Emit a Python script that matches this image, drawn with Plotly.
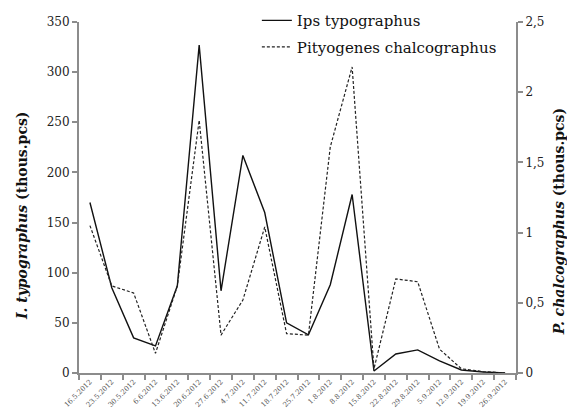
import plotly.graph_objects as go

dates = ["16.5.2012", "23.5.2012", "30.5.2012", "6.6.2012", "13.6.2012", "20.6.2012",
         "27.6.2012", "4.7.2012", "11.7.2012", "18.7.2012", "25.7.2012", "1.8.2012",
         "8.8.2012", "15.8.2012", "22.8.2012", "29.8.2012", "5.9.2012", "12.9.2012",
         "19.9.2012", "26.9.2012"]
ips = [170, 85, 35, 27, 87, 327, 82, 217, 160, 50, 38, 88, 178, 2, 19, 23, 12, 3, 1, 0]
pity = [1.05, 0.62, 0.57, 0.14, 0.62, 1.80, 0.27, 0.52, 1.04, 0.28, 0.27, 1.61, 2.18,
        0.03, 0.67, 0.65, 0.17, 0.03, 0.01, 0.0]

serif = "DejaVu Serif"

fig = go.Figure()
fig.add_trace(go.Scatter(x=dates, y=ips, name="Ips typographus", mode="lines",
                         legendgroup="a",
                         line=dict(color="#111111", width=1.4), yaxis="y"))
fig.add_trace(go.Scatter(x=dates, y=pity, name="Pityogenes chalcographus", mode="lines",
                         legendgroup="b",
                         line=dict(color="#222222", width=1.2, dash="3px,2px"), yaxis="y2"))

axis_col = "#8c8c8c"
fig.update_layout(
    # page body has an 8px offset in the browser; size the figure to fit the window
    width=567, height=409,
    margin=dict(l=71, r=59, t=14, b=44, autoexpand=False),
    paper_bgcolor="white", plot_bgcolor="white",
    separators=", ",
    font=dict(family=serif, color="#111111", size=12),
    showlegend=True,
    legend=dict(x=0.407, y=1.051, xanchor="left", yanchor="top",
                bgcolor="rgba(0,0,0,0)", font=dict(family=serif, size=15),
                tracegroupgap=4),
    xaxis=dict(type="category", range=[-0.5, len(dates) - 0.5],
               showline=True, linecolor=axis_col, linewidth=2,
               ticks="outside", tickcolor=axis_col, tickwidth=1.5, ticklen=5,
               tickson="boundaries", tickangle=-45, showgrid=False, zeroline=False,
               automargin=False,
               tickfont=dict(family=serif, size=7, color="#555555")),
    yaxis=dict(range=[0, 350], dtick=50, showline=True, linecolor=axis_col, linewidth=2,
               ticks="outside", tickcolor=axis_col, tickwidth=1.5, ticklen=5,
               showgrid=False, zeroline=False, automargin=False,
               tickfont=dict(family=serif, size=12, color="#222222")),
    yaxis2=dict(range=[0, 2.5], dtick=0.5, overlaying="y", side="right",
                showline=True, linecolor=axis_col, linewidth=2,
                ticks="outside", tickcolor=axis_col, tickwidth=1.5, ticklen=5,
                showgrid=False, zeroline=False, automargin=False,
                tickfont=dict(family=serif, size=12, color="#222222")),
    annotations=[
        dict(text="<b><i>I. typographus</i> (thous.pcs)</b>", textangle=-90,
             xref="paper", yref="paper", x=-0.1304, y=0.447,
             xanchor="center", yanchor="middle", showarrow=False,
             font=dict(family=serif, size=14, color="#111111")),
        dict(text="<b><i>P. chalcographus</i> (thous.pcs)</b>", textangle=-90,
             xref="paper", yref="paper", x=1.099, y=0.43,
             xanchor="center", yanchor="middle", showarrow=False,
             font=dict(family=serif, size=14, color="#111111")),
    ],
)

fig.write_html("out.html")
